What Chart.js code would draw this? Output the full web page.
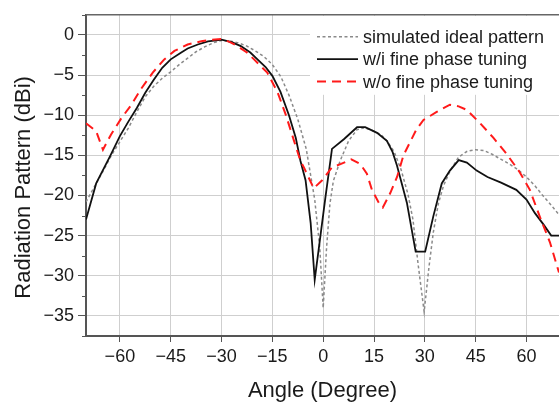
<!DOCTYPE html>
<html lang="en">
<head>
<meta charset="UTF-8">
<title>Radiation Pattern</title>
<script src="https://cdn.jsdelivr.net/npm/chart.js"></script>
<style>
    html, body { margin: 0; padding: 0; background: #fff; overflow: hidden; }
    #wrap { width: 559px; height: 407px; }
</style>
</head>
<body>
<div id="wrap"><canvas id="chart" width="559" height="407"></canvas></div>
<script>
    // simulated ideal pattern
    const angleIdeal = [-70, -67.5, -65, -62.5, -60, -57.5, -55, -52.5, -50, -47.5, -45, -42.5, -40, -37.5, -35, -32.5, -30,
        -27.5, -25, -22.5, -20, -17.5, -15, -12.5, -10, -7.5, -5, -2.5, -1, 0, 1, 2, 3, 5, 7.5, 10, 12, 14, 17, 19, 21, 23,
        25, 26.5, 28, 29.8, 31.2, 32.5, 34, 35.5, 37.5, 40, 42.5, 45, 47.5, 50, 52.5, 55, 57.5, 60, 62.5, 65, 67.5, 69.6];
    const ideal = [-20.8, -18.9, -17.0, -15.0, -13.3, -11.6, -9.6, -7.7, -6.4, -5.4, -4.6, -3.7, -2.9, -2.1, -1.5, -1.0, -0.7,
        -0.75, -1.0, -1.4, -2.0, -2.7, -3.7, -5.2, -7.6, -10.5, -14.2, -20.5, -26.5, -34, -26.5, -21, -18.2, -15.7, -13.2, -11.8, -11.6, -11.8, -12.4, -13.3, -14.6, -16.8,
        -19.8, -23, -28.5, -34.5, -29, -24.6, -21, -18.8, -16.9, -15.2, -14.5, -14.3, -14.4, -14.9, -15.5, -16.1, -16.8, -17.7, -18.8, -20.1, -21.3, -22.4];

    // measured, with fine phase tuning
    const angleTuned = [-70, -67, -63, -60, -57.5, -55, -52.5, -50, -47.5, -45, -42, -40, -37, -34, -31, -30, -27, -24.3, -21.5,
        -19.4, -17, -15, -12.6, -10.1, -8.1, -6.7, -5.2, -3.7, -2.5, -0.8, 0.7, 2.6, 6.1, 10, 12.4, 15.9, 18.8, 20.5, 21.8,
        24.7, 27.3, 30.1, 32.5, 35, 37.4, 40, 42.4, 45.3, 48.5, 52.5, 57, 60, 62.5, 65, 67.3, 69.6];
    const tuned = [-23, -18.5, -15.2, -12.6, -10.8, -9.1, -7.2, -5.6, -4.1, -3.05, -2.24, -1.7, -1.2, -0.8, -0.65, -0.6, -0.9, -1.4, -2.2,
        -3.05, -4.0, -5.1, -7.1, -10, -12.8, -15.7, -18.1, -23.4, -30.5, -25, -20.1, -14.2, -13, -11.5, -11.5, -12.2, -13.2, -14.6, -16.3,
        -20.9, -27, -27, -22.6, -18.5, -16.9, -15.6, -15.9, -16.9, -17.7, -18.4, -19.3, -20.5, -22.2, -23.6, -25, -25];

    // measured, without fine phase tuning
    const angleUntuned = [-70, -67, -65, -62.6, -59.6, -56.6, -53.7, -50.3, -46.9, -43.9, -40, -36, -33, -30, -27.5, -25.3, -22.5,
        -20.4, -16.5, -13.5, -11, -8.6, -6.7, -5.7, -2.8, -0.3, 2.6, 5.1, 8.3, 11, 12.9, 14.4, 16.4, 17.6, 19.8, 21.8, 23.7,
        25.7, 27.5, 29.6, 33.5, 37.4, 40, 42.4, 46.3, 50.2, 54.1, 58, 61, 63.9, 66.9, 69.6];
    const untuned = [-11, -12, -14.3, -12.4, -10.4, -8.7, -6.7, -4.7, -3.05, -2.0, -1.2, -0.8, -0.6, -0.5, -0.9, -1.4, -2.2,
        -3.05, -4.7, -7.1, -10, -13.2, -15.7, -16.5, -19.1, -18.1, -16.5, -16.1, -15.5, -16.1, -17.3, -19.3, -20.9, -21.5, -19.7, -17.7, -15,
        -13.3, -11.8, -10.6, -9.6, -8.7, -8.9, -9.35, -11, -12.8, -14.8, -17.1, -19.3, -22.6, -25.8, -29.6];

    const xTicks = [-60, -45, -30, -15, 0, 15, 30, 45, 60];
    const yTicks = [-35, -30, -25, -20, -15, -10, -5, 0];

    const FONT = "'Liberation Sans', Arial, sans-serif";
    const toPoints = (xs, ys) => xs.map((x, i) => ({ x: x, y: ys[i] }));
    const fmt = v => (v < 0 ? '\u2212' + Math.abs(v) : String(v));
    const isMajorY = v => yTicks.some(t => Math.abs(t - v) < 1e-6);

    // legend with white background inside the plot, top right
    const legendBox = {
        id: 'legendBox',
        afterDatasetsDraw(chart) {
            const { ctx, chartArea } = chart;
            const x0 = chartArea.right - 249;
            ctx.save();
            ctx.fillStyle = '#fff';
            ctx.fillRect(x0, chartArea.top + 1, chartArea.right - x0, 79);
            ctx.font = '18px ' + FONT;
            ctx.textBaseline = 'middle';
            chart.data.datasets.forEach((ds, i) => {
                const y = chartArea.top + 22 + i * 22.4;
                ctx.strokeStyle = ds.borderColor;
                ctx.lineWidth = ds.borderWidth;
                ctx.setLineDash(ds.borderDash || []);
                ctx.beginPath();
                ctx.moveTo(x0 + 7, y);
                ctx.lineTo(x0 + 48, y);
                ctx.stroke();
                ctx.setLineDash([]);
                ctx.fillStyle = '#1a1a1a';
                ctx.fillText(ds.label, x0 + 53, y + 1);
            });
            ctx.restore();
        }
    };

    // top frame line, short minor ticks on the y axis, rotated y title
    const frameExtras = {
        id: 'frameExtras',
        afterDraw(chart) {
            const { ctx, chartArea, scales } = chart;
            ctx.save();
            ctx.strokeStyle = '#666';
            ctx.lineWidth = 1.5;
            ctx.beginPath();
            ctx.moveTo(chartArea.left, chartArea.top);
            ctx.lineTo(chartArea.right, chartArea.top);
            ctx.stroke();

            ctx.strokeStyle = '#555';
            ctx.lineWidth = 1;
            scales.y.ticks.forEach(t => {
                if (isMajorY(t.value)) return;
                const y = Math.round(scales.y.getPixelForValue(t.value)) + 0.5;
                ctx.beginPath();
                ctx.moveTo(chartArea.left - 4, y);
                ctx.lineTo(chartArea.left, y);
                ctx.stroke();
            });

            ctx.translate(24, (chartArea.top + chartArea.bottom) / 2 + 12);
            ctx.rotate(-Math.PI / 2);
            ctx.font = '22px ' + FONT;
            ctx.fillStyle = '#1a1a1a';
            ctx.textAlign = 'center';
            ctx.textBaseline = 'middle';
            ctx.fillText('Radiation Pattern (dBi)', 0, 0);
            ctx.restore();
        }
    };

    const ctx = document.getElementById('chart').getContext('2d');
    const chart = new Chart(ctx, {
        type: 'line',
        data: {
            datasets: [{
                label: 'simulated ideal pattern',
                data: toPoints(angleIdeal, ideal),
                borderColor: '#8a8a8a',
                borderWidth: 1.5,
                borderDash: [3, 2.5],
                order: 3
            }, {
                label: 'w/i fine phase tuning',
                data: toPoints(angleTuned, tuned),
                borderColor: '#111',
                borderWidth: 1.8,
                order: 2
            }, {
                label: 'w/o fine phase tuning',
                data: toPoints(angleUntuned, untuned),
                borderColor: '#ff1a1a',
                borderWidth: 2,
                borderDash: [9, 6],
                order: 1
            }]
        },
        options: {
            responsive: false,
            animation: false,
            devicePixelRatio: 1,
            layout: { padding: { top: 7, right: 0, bottom: 0, left: 0 } },
            elements: {
                point: { radius: 0 },
                line: { tension: 0, fill: false }
            },
            plugins: {
                legend: { display: false },
                tooltip: { enabled: false }
            },
            scales: {
                x: {
                    type: 'linear',
                    min: -70,
                    max: 69.6,
                    afterBuildTicks: s => { s.ticks = xTicks.map(v => ({ value: v })); },
                    afterFit: s => { s.height = 71; },
                    ticks: {
                        autoSkip: false,
                        maxRotation: 0,
                        padding: 4,
                        color: '#1a1a1a',
                        font: { family: FONT, size: 18 },
                        callback: v => fmt(v)
                    },
                    grid: { color: '#cfcfcf', lineWidth: 1, tickLength: 6, tickColor: '#555' },
                    border: { color: '#555', width: 2 },
                    title: {
                        display: true,
                        text: 'Angle (Degree)',
                        color: '#1a1a1a',
                        font: { family: FONT, size: 22 },
                        padding: { top: 0, bottom: 3 }
                    }
                },
                y: {
                    type: 'linear',
                    min: -37.5,
                    max: 2.5,
                    afterFit: s => { s.width = 86; },
                    ticks: {
                        stepSize: 2.5,
                        autoSkip: false,
                        padding: 4,
                        color: '#1a1a1a',
                        font: { family: FONT, size: 18 },
                        callback: v => (isMajorY(v) ? fmt(v) : '')
                    },
                    grid: {
                        color: c => (isMajorY(c.tick.value) ? '#cfcfcf' : 'rgba(0,0,0,0)'),
                        tickColor: c => (isMajorY(c.tick.value) ? '#555' : 'rgba(0,0,0,0)'),
                        lineWidth: 1,
                        tickLength: 8
                    },
                    border: { color: '#555', width: 2 }
                }
            }
        },
        plugins: [legendBox, frameExtras]
    });
</script>
</body>
</html>
